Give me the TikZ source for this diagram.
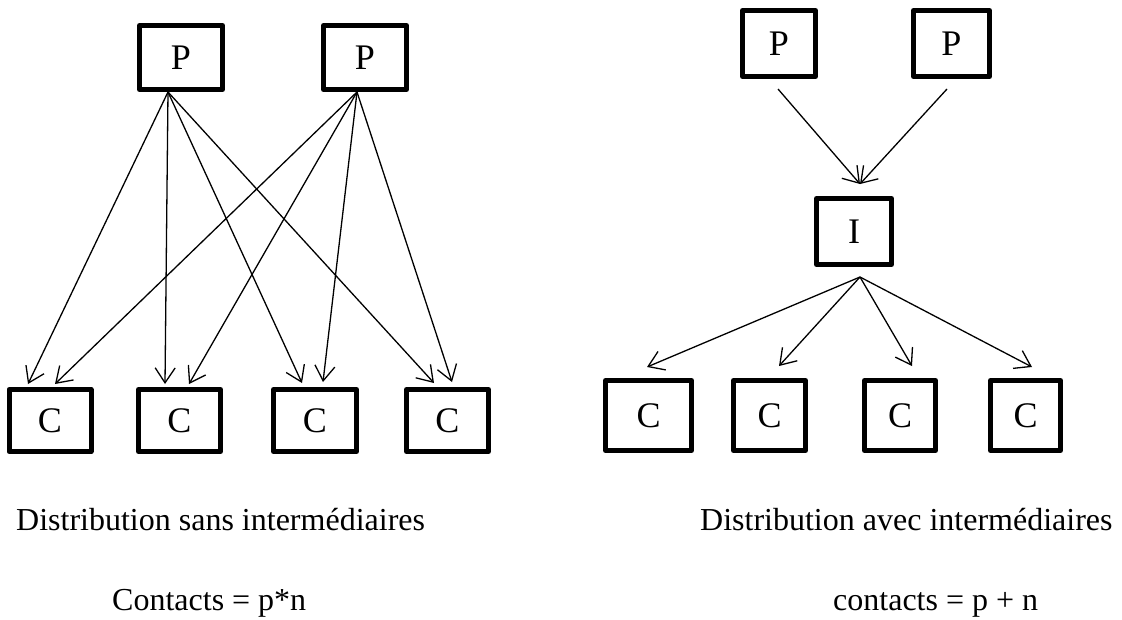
\documentclass[tikz,border=0pt]{standalone}
\usepackage{fontspec}
\setmainfont{Liberation Serif}
\usetikzlibrary{arrows.meta}
\begin{document}
\begin{tikzpicture}[x=1pt,y=-1pt,
  box/.style={draw, line width=5pt, line join=round, inner sep=0pt,
    minimum width=82pt, minimum height=63pt,
    font=\fontsize{36}{40}\selectfont},
  arr/.style={line width=1.3pt, -{Straight Barb[length=15pt,width=20pt,line width=1.3pt]}},
  caption/.style={anchor=base west, inner sep=0pt, font=\fontsize{32}{38}\selectfont}]
\useasboundingbox (0,0) rectangle (1122,619);

% --- direct distribution: every producer reaches every consumer
\node[box, minimum width=83pt, minimum height=64pt] (lp1) at (181,57.5) {P};
\node[box, minimum width=83pt, minimum height=64pt] (lp2) at (365,57.5) {P};
\node[box, minimum height=62pt] (lc1) at (50,420.5) {C};
\node[box, minimum height=62pt] (lc2) at (179.5,420.5) {C};
\node[box, minimum height=62pt, minimum width=83pt] (lc3) at (315,420.5) {C};
\node[box, minimum height=62pt, minimum width=82pt] (lc4) at (447.5,420.5) {C};

\draw[arr] ([xshift=-13pt]lp1.south) -- ([xshift=-22pt,yshift=3pt]lc1.north);
\draw[arr] ([xshift=-13pt]lp1.south) -- ([xshift=-14.5pt,yshift=3pt]lc2.north);
\draw[arr] ([xshift=-13pt]lp1.south) -- ([xshift=-13pt,yshift=4pt]lc3.north);
\draw[arr] ([xshift=-13pt]lp1.south) -- ([xshift=-13.5pt,yshift=4pt]lc4.north);
\draw[arr] ([xshift=-8pt]lp2.south) -- ([xshift=5pt,yshift=3pt]lc1.north);
\draw[arr] ([xshift=-8pt]lp2.south) -- ([xshift=9.5pt,yshift=3pt]lc2.north);
\draw[arr] ([xshift=-8pt]lp2.south) -- ([xshift=8pt,yshift=5pt]lc3.north);
\draw[arr] ([xshift=-8pt]lp2.south) -- ([xshift=4.5pt,yshift=5pt]lc4.north);

% --- distribution through one intermediary
\node[box, minimum width=73pt, minimum height=66pt] (rp1) at (779,43.5) {P};
\node[box, minimum width=76pt, minimum height=66pt] (rp2) at (951.5,43.5) {P};
\node[box, minimum width=75pt, minimum height=66pt] (ri) at (854,231.5) {I};
\node[box, minimum width=86pt, minimum height=70pt] (rc1) at (648.5,415.5) {C};
\node[box, minimum width=72pt, minimum height=70pt] (rc2) at (769.5,415.5) {C};
\node[box, minimum width=71pt, minimum height=70pt] (rc3) at (900,415.5) {C};
\node[box, minimum width=70pt, minimum height=70pt] (rc4) at (1025.5,415.5) {C};

\draw[arr] ([xshift=-1pt,yshift=-10pt]rp1.south) -- ([xshift=6pt,yshift=12pt]ri.north);
\draw[arr] ([xshift=-4.5pt,yshift=-10pt]rp2.south) -- ([xshift=6pt,yshift=12pt]ri.north);
\draw[arr] ([xshift=6pt,yshift=-10pt]ri.south) -- ([xshift=-1.5pt,yshift=11pt]rc1.north);
\draw[arr] ([xshift=6pt,yshift=-10pt]ri.south) -- ([xshift=9.5pt,yshift=12pt]rc2.north);
\draw[arr] ([xshift=6pt,yshift=-10pt]ri.south) -- ([xshift=12pt,yshift=12pt]rc3.north);
\draw[arr] ([xshift=6pt,yshift=-10pt]ri.south) -- ([xshift=6.5pt,yshift=11pt]rc4.north);

% --- captions
\node[caption] (lt) at (16,530) {Distribution sans intermédiaires};
\node[caption] (lf) at (112,610) {Contacts = p*n};
\node[caption] (rt) at (700,530) {Distribution avec intermédiaires};
\node[caption] (rf) at (833,610) {contacts = p + n};
\end{tikzpicture}
\end{document}
